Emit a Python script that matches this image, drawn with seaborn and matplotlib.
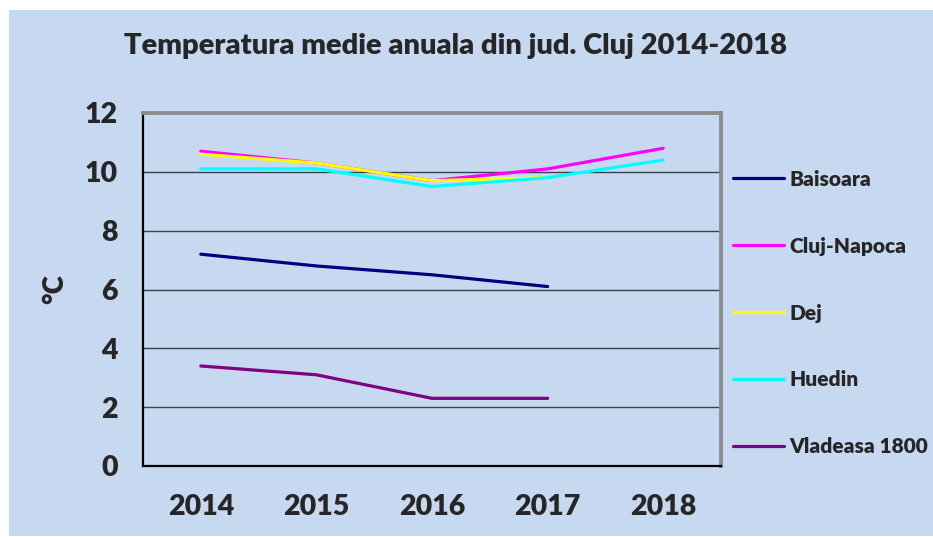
import pandas as pd
import seaborn as sns
import matplotlib.pyplot as plt
from matplotlib.patches import Rectangle
from matplotlib.ticker import FixedLocator, NullFormatter

# Temperatura medie anuala (°C)
years = ["2014", "2015", "2016", "2017", "2018"]
baisoara = [7.2, 6.8, 6.5, 6.1, None]
cluj_napoca = [10.7, 10.3, 9.7, 10.1, 10.8]
dej = [10.6, 10.3, 9.7, 9.8, None]
huedin = [10.1, 10.1, 9.5, 9.8, 10.4]
vladeasa = [3.4, 3.1, 2.3, 2.3, None]

stations = ["Baisoara", "Cluj-Napoca", "Dej", "Huedin", "Vladeasa 1800"]
colors = ["#000080", "#FF00FF", "#FFFF00", "#00FFFF", "#800080"]

series = [baisoara, cluj_napoca, dej, huedin, vladeasa]
rows = []
for name, vals in zip(stations, series):
    for i, v in enumerate(vals):
        if v is not None:
            rows.append({"pos": i, "An": years[i], "Statie": name, "Temp": v})
df = pd.DataFrame(rows)

BG = "#C6D9F0"
W = "heavy"
sns.set_theme(style="white")
plt.rcParams["font.family"] = ["Lato", "DejaVu Sans"]
plt.rcParams["font.weight"] = W

fig = plt.figure(figsize=(9.33, 5.37), dpi=100)
fig.patch.set_facecolor("white")
fig.patches.append(Rectangle((9 / 933, 1 / 537), 1 - 9 / 933, 526 / 537,
                             transform=fig.transFigure, facecolor=BG,
                             edgecolor="none", zorder=-10))

ax = fig.add_axes([143 / 933, 71 / 537, 578 / 933, 353 / 537])
ax.set_facecolor(BG)

# grid lines
for yv in [2, 4, 6, 8, 10]:
    ax.axhline(yv, color="#3A3F4A", lw=1.0, zorder=1)

sns.lineplot(data=df, x="pos", y="Temp", hue="Statie", hue_order=stations,
             palette=colors, linewidth=2.3, ax=ax, zorder=3, legend=True)

ax.set_xlim(-0.5, 4.5)
ax.set_ylim(0, 12)
ax.set_yticks([0, 2, 4, 6, 8, 10, 12])
ax.set_yticklabels(["0", "2", "4", "6", "8", "10", "12"], fontsize=20.5, fontweight=W)

# x ticks at category boundaries, labels at centers
ax.xaxis.set_major_locator(FixedLocator([-0.5, 0.5, 1.5, 2.5, 3.5, 4.5]))
ax.xaxis.set_major_formatter(NullFormatter())
ax.xaxis.set_minor_locator(FixedLocator(range(len(years))))
ax.set_xticklabels(years, minor=True, fontsize=20.5, fontweight=W)
ax.tick_params(axis="x", which="major", direction="out", length=10, width=1, color="#3A3F4A")
ax.tick_params(axis="x", which="minor", length=0, pad=20)
ax.tick_params(axis="y", direction="out", length=6, width=1, color="#3A3F4A", pad=12)

ax.set_xlabel("")
ax.set_ylabel("°C", fontsize=20, fontweight=W, labelpad=12)

for side in ["left", "bottom"]:
    ax.spines[side].set_color("black")
    ax.spines[side].set_linewidth(1.6)
for side in ["top", "right"]:
    ax.spines[side].set_color("#8C8C8C")
    ax.spines[side].set_linewidth(2.8)

fig.text(455 / 933, 1 - 46 / 537, "Temperatura medie anuala din jud. Cluj 2014-2018",
         ha="center", va="center", fontsize=21, fontweight=W)

ax.get_legend().remove()
handles, labels = ax.get_legend_handles_labels()
leg = fig.legend(handles, labels, loc="center left",
                 bbox_to_anchor=(733 / 933, 1 - 313 / 537),
                 frameon=False, prop={"weight": W, "size": 15},
                 handlelength=2.45, handletextpad=0.25, labelspacing=2.3,
                 borderpad=0, borderaxespad=0)
for line in leg.get_lines():
    line.set_linewidth(2.3)

fig.savefig("out.png", dpi=100, facecolor=fig.get_facecolor())
